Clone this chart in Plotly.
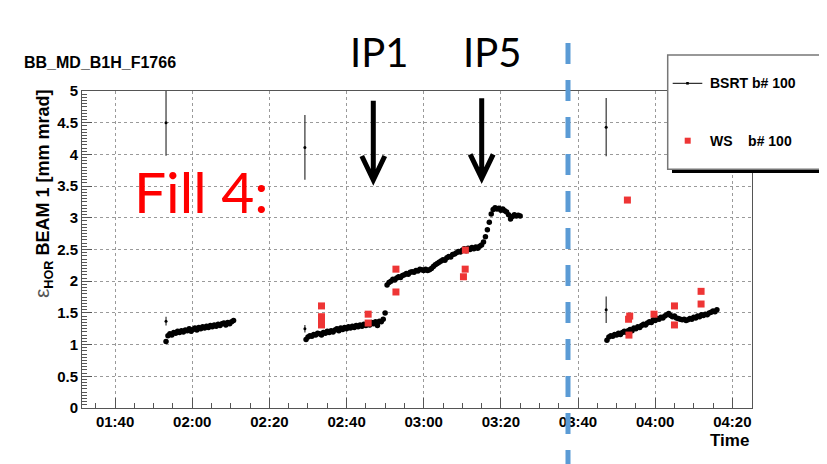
import plotly.graph_objects as go
from datetime import datetime, timedelta

DAY = "2011-05-13"

# ---------------- data ----------------
# BSRT b# 100 : three fills, samples every 30 s
seg1_start = "01:53:12"
seg1_y = [1.05, 1.14, 1.17, 1.15, 1.19, 1.18, 1.21, 1.19, 1.22, 1.20, 1.23, 1.22,
          1.25, 1.21, 1.24, 1.26, 1.23, 1.27, 1.25, 1.28, 1.26, 1.29, 1.27, 1.30,
          1.28, 1.31, 1.29, 1.32, 1.30, 1.33, 1.34, 1.31, 1.35, 1.33, 1.36, 1.38]

seg2_start = "02:29:30"
seg2_y = [1.08, 1.12, 1.14, 1.13, 1.16, 1.15, 1.18, 1.17, 1.15, 1.19, 1.18, 1.21,
          1.19, 1.22, 1.20, 1.23, 1.25, 1.22, 1.26, 1.24, 1.27, 1.25, 1.28, 1.26,
          1.29, 1.27, 1.30, 1.28, 1.31, 1.29, 1.32, 1.30, 1.33, 1.31, 1.35, 1.33,
          1.36, 1.30, 1.37, 1.36, 1.40, 1.50, 1.94, 1.98, 2.00, 2.03, 2.02, 2.05,
          2.07, 2.06, 2.09, 2.10, 2.12, 2.11, 2.14, 2.15, 2.14, 2.17, 2.16, 2.19,
          2.18, 2.17, 2.19, 2.17, 2.18, 2.20, 2.23, 2.26, 2.28, 2.30, 2.32, 2.34,
          2.33, 2.37, 2.39, 2.38, 2.42, 2.43, 2.45, 2.47, 2.46, 2.49, 2.51, 2.48,
          2.52, 2.50, 2.53, 2.51, 2.54, 2.52, 2.55, 2.57, 2.62, 2.70, 2.81, 2.93,
          3.06, 3.13, 3.16, 3.14, 3.15, 3.12, 3.14, 3.11, 3.09, 3.05, 2.98, 3.02,
          3.05, 3.03, 3.04, 3.03]

seg3_start = "03:47:30"
seg3_y = [1.07, 1.12, 1.14, 1.13, 1.16, 1.15, 1.18, 1.16, 1.19, 1.21, 1.19, 1.22,
          1.24, 1.22, 1.26, 1.25, 1.28, 1.27, 1.30, 1.32, 1.31, 1.34, 1.36, 1.35,
          1.39, 1.38, 1.41, 1.40, 1.43, 1.42, 1.45, 1.47, 1.49, 1.46, 1.44, 1.45,
          1.42, 1.41, 1.40, 1.39, 1.40, 1.38, 1.39, 1.41, 1.40, 1.43, 1.42, 1.45,
          1.44, 1.47, 1.46, 1.48, 1.47, 1.50, 1.51, 1.53, 1.52, 1.55]
sample_step_s = 30

# BSRT points drawn with error bars
err_t = ["01:53:12", "01:53:12", "02:29:12", "02:29:12", "03:47:18", "03:47:18"]
err_y = [4.50, 1.37, 4.11, 1.25, 4.43, 1.55]
err_e = [0.52, 0.07, 0.51, 0.06, 0.46, 0.21]

# WS b# 100
ws_t = ["02:33:30", "02:33:30", "02:33:30", "02:33:30", "02:45:36", "02:45:36",
        "02:52:48", "02:52:48", "03:10:18", "03:10:45", "03:10:48", "03:52:48",
        "03:53:24", "03:53:06", "03:53:12", "03:59:42", "04:05:00", "04:05:00",
        "04:11:54", "04:11:54"]
ws_y = [1.61, 1.44, 1.38, 1.31, 1.48, 1.34, 2.19, 1.83, 2.07, 2.19, 2.49, 3.28,
        1.45, 1.40, 1.15, 1.48, 1.61, 1.31, 1.84, 1.64]

x_range = ["01:31:25", "04:25:06"]
y_range = [0, 5]

# ---------------- helpers ----------------
def full(t):
    return f"{DAY} {t}"

def series_times(start, n):
    t0 = datetime.strptime(full(start), "%Y-%m-%d %H:%M:%S")
    return [t0 + timedelta(seconds=sample_step_s * i) for i in range(n)]

bsrt_x = (series_times(seg1_start, len(seg1_y)) + series_times(seg2_start, len(seg2_y))
          + series_times(seg3_start, len(seg3_y)))
bsrt_y = seg1_y + seg2_y + seg3_y

# page pixels (the html body has an 8 px margin)
OFF = 8
W, H = 827 - OFF, 464 - OFF
L, R, T, B = 82, 752, 91, 408          # plot area in screen pixels
PW, PH = R - L, B - T

def px(x):
    return (x - L) / PW

def py(y):
    return (B - y) / PH

FONT = "Liberation Sans"

fig = go.Figure()
fig.add_trace(go.Scatter(
    x=bsrt_x, y=bsrt_y, mode="markers", name="BSRT b# 100",
    marker=dict(color="black", size=5.5, symbol="circle"), showlegend=False))
fig.add_trace(go.Scatter(
    x=[full(t) for t in err_t], y=err_y, mode="markers", name="BSRT b# 100 (err)",
    marker=dict(color="black", size=3),
    error_y=dict(type="data", array=err_e, color="#333333", thickness=1.2, width=0),
    showlegend=False))
fig.add_trace(go.Scatter(
    x=[full(t) for t in ws_t], y=ws_y, mode="markers", name="WS b# 100",
    marker=dict(color="#EE3535", size=7, symbol="square"), showlegend=False))

axis_common = dict(
    showline=True, linecolor="#555555", linewidth=1, mirror=True,
    ticks="inside", ticklen=10, tickcolor="#555555", tickwidth=1,
    showgrid=True, gridcolor="#9a9a9a", griddash="dot", gridwidth=1,
    zeroline=False,
    tickfont=dict(family=FONT, size=15, color="black", weight="bold"),
)

fig.update_xaxes(
    type="date", range=[full(x_range[0]), full(x_range[1])],
    tickformat="%H:%M", dtick=20 * 60 * 1000, tick0=full("00:00:00"),
    minor=dict(dtick=5 * 60 * 1000, tick0=full("00:00:00"), ticks="inside",
               ticklen=5, tickcolor="#555555", showgrid=False),
    **axis_common)
fig.update_yaxes(
    range=y_range, dtick=0.5, tick0=0,
    minor=dict(dtick=0.05, ticks="inside", ticklen=5, tickcolor="#555555", showgrid=False),
    **axis_common)

shapes = []
annotations = []

# legend box with shadow
shapes.append(dict(type="rect", xref="paper", yref="paper",
                   x0=px(672), x1=px(840), y0=py(173), y1=py(60),
                   fillcolor="black", line=dict(width=0)))
shapes.append(dict(type="rect", xref="paper", yref="paper",
                   x0=px(667.7), x1=px(840), y0=py(169.3), y1=py(55),
                   fillcolor="white", line=dict(color="#777777", width=1.5)))
shapes.append(dict(type="line", xref="paper", yref="paper",
                   x0=px(672.7), x1=px(702.3), y0=py(83.3), y1=py(83.3),
                   line=dict(color="black", width=1)))
shapes.append(dict(type="rect", xref="paper", yref="paper",
                   x0=px(686.2), x1=px(688.8), y0=py(84.6), y1=py(82.0),
                   fillcolor="black", line=dict(width=0)))
shapes.append(dict(type="rect", xref="paper", yref="paper",
                   x0=px(684.7), x1=px(690.7), y0=py(143.7), y1=py(137.7),
                   fillcolor="#EE3535", line=dict(width=0)))
annotations.append(dict(xref="paper", yref="paper", x=px(708), y=py(83.3),
                        xanchor="left", yanchor="middle", showarrow=False,
                        text="BSRT b# 100",
                        font=dict(family=FONT, size=14, color="black", weight="bold")))
annotations.append(dict(xref="paper", yref="paper", x=px(708), y=py(140.7),
                        xanchor="left", yanchor="middle", showarrow=False,
                        text="WS&nbsp;&nbsp;&nbsp;&nbsp;b# 100",
                        font=dict(family=FONT, size=14, color="black", weight="bold")))

# title
annotations.append(dict(xref="paper", yref="paper", x=px(22), y=py(62.8),
                        xanchor="left", yanchor="middle", showarrow=False,
                        text="BB_MD_B1H_F1766",
                        font=dict(family=FONT, size=16, color="black", weight="bold")))
# axis titles
annotations.append(dict(xref="paper", yref="paper", x=px(751), y=py(440),
                        xanchor="right", yanchor="middle", showarrow=False,
                        text="Time",
                        font=dict(family=FONT, size=17, color="black", weight="bold")))
annotations.append(dict(xref="paper", yref="paper", x=px(43), y=py(194),
                        xanchor="center", yanchor="middle", showarrow=False,
                        textangle=-90,
                        text="<span style='color:#555555;font-size:21px'>ε</span><sub><b>HOR</b></sub> <b>BEAM 1 [mm mrad]</b>",
                        font=dict(family=FONT, size=18, color="black")))

# slide overlays
annotations.append(dict(xref="paper", yref="paper", x=px(379), y=py(52),
                        xanchor="center", yanchor="middle", showarrow=False,
                        text="IP1", font=dict(family="Lato", size=40, color="black")))
annotations.append(dict(xref="paper", yref="paper", x=px(492), y=py(52),
                        xanchor="center", yanchor="middle", showarrow=False,
                        text="IP5", font=dict(family="Lato", size=40, color="black")))
annotations.append(dict(xref="paper", yref="paper", x=px(201), y=py(191),
                        xanchor="center", yanchor="middle", showarrow=False,
                        text="Fill 4:", font=dict(family="Lato", size=57, color="#FF0000")))

def arrow_path(x, ytop, ytip, half=11.5, head=24):
    pts = lambda a, b: f"{px(a)},{py(b)}"
    return (f"M {pts(x, ytop)} L {pts(x, ytip - 2)} "
            f"M {pts(x - half, ytip - head)} L {pts(x, ytip)} L {pts(x + half, ytip - head)}")

for ax_, top_, tip_ in [(373.3, 100.7, 180), (481.7, 98.3, 178.3)]:
    shapes.append(dict(type="path", xref="paper", yref="paper",
                       path=arrow_path(ax_, top_, tip_),
                       line=dict(color="black", width=5)))

# blue dashed separator
shapes.append(dict(type="line", xref="paper", yref="paper",
                   x0=px(568), x1=px(568), y0=py(43), y1=py(470),
                   line=dict(color="#5B9BD5", width=5, dash="21px,16px")))

fig.update_layout(
    width=W, height=H, autosize=False,
    margin=dict(l=L - OFF, r=827 - R, t=T - OFF, b=464 - B, pad=0),
    plot_bgcolor="white", paper_bgcolor="white",
    showlegend=False,
    shapes=shapes, annotations=annotations,
    font=dict(family=FONT, color="black"),
)

fig.write_html("out.html")
